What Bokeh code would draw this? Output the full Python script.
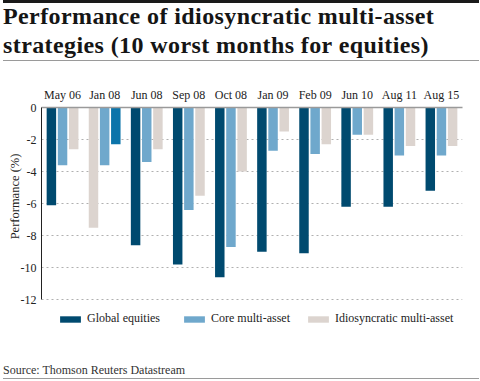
from bokeh.plotting import figure
from bokeh.models import (FactorRange, Range1d, Legend, LegendItem,
                          ColumnDataSource, FixedTicker, Div)
from bokeh.layouts import column
from bokeh.transform import dodge
from bokeh.embed import file_html
from bokeh.resources import INLINE

# ---------------- data ----------------
title_lines = ["Performance of idiosyncratic multi-asset",
               "strategies (10 worst months for equities)"]
source_text = "Source: Thomson Reuters Datastream"
y_axis_title = "Performance (%)"
months = ["May 06", "Jan 08", "Jun 08", "Sep 08", "Oct 08",
          "Jan 09", "Feb 09", "Jun 10", "Aug 11", "Aug 15"]
# bars as they appear in each month group (left, middle, right)
left_values = [-6.1, -7.5, -8.6, -9.8, -10.6, -9.0, -9.1, -6.2, -6.2, -5.2]
left_series = ["global", "idio", "global", "global", "global",
               "global", "global", "global", "global", "global"]
core_values = [-3.6, -3.6, -3.4, -6.4, -8.7, -2.7, -2.9, -1.7, -3.0, -3.0]
right_values = [-2.6, -2.3, -2.6, -5.5, -4.0, -1.5, -2.3, -1.7, -2.4, -2.4]
right_series = ["idio", "alt", "idio", "idio", "idio",
                "idio", "idio", "idio", "idio", "idio"]
y_ticks = [0, -2, -4, -6, -8, -10, -12]
y_tick_labels = ["0", "-2", "-4", "-6", "-8", "-10", "-12"]
series_names = ["Global equities", "Core multi-asset", "Idiosyncratic multi-asset"]

palette = {"global": "#004a6f", "core": "#6fa8cc", "idio": "#dcd4cf", "alt": "#0b74aa"}

SERIF = "Liberation Serif"
W = 480
TITLE_H, FIG_H, SRC_H = 62, 293, 26

# ---------------- title block ----------------
title_style = ("position:absolute;left:3px;white-space:nowrap;font-weight:bold;"
               "font-size:24px;line-height:29px;letter-spacing:0.4px;color:#151515;")
title_html = (
    f'<div style="position:relative;width:{W}px;height:{TITLE_H}px;'
    f'font-family:\'{SERIF}\';overflow:hidden;">'
    f'<div style="position:absolute;left:3px;top:0;width:{W - 4}px;height:3px;background:#1a1a1a;"></div>'
    f'<div style="{title_style}top:2px;">{title_lines[0]}</div>'
    f'<div style="{title_style}top:31px;">{title_lines[1]}</div>'
    f'<div style="position:absolute;left:3px;top:60px;width:{W - 4}px;height:1px;background:#9a9a9a;"></div>'
    f'</div>'
)
title_div = Div(text=title_html, width=W, height=TITLE_H, margin=(0, 0, 0, 0))

source_html = (
    f'<div style="position:relative;width:{W}px;height:{SRC_H}px;'
    f'font-family:\'{SERIF}\';overflow:hidden;">'
    f'<div style="position:absolute;left:3px;top:8px;white-space:nowrap;font-size:12px;'
    f'line-height:14px;color:#333;">{source_text}</div>'
    f'<div style="position:absolute;left:3px;top:23px;width:{W - 4}px;height:1px;background:#9a9a9a;"></div>'
    f'</div>'
)
source_div = Div(text=source_html, width=W, height=SRC_H, margin=(0, 0, 0, 0))

# ---------------- chart ----------------
src = ColumnDataSource(dict(
    month=months,
    left=left_values, left_color=[palette[s] for s in left_series],
    core=core_values, core_color=[palette["core"]] * len(months),
    right=right_values, right_color=[palette[s] for s in right_series],
))

PX_PER_UNIT = 16.025
FRAME_TOP, FRAME_H = 45, 228
p = figure(width=W, height=FIG_H, output_backend="svg", toolbar_location=None,
           x_range=FactorRange(factors=months, range_padding=0),
           y_range=Range1d(-FRAME_H / PX_PER_UNIT, 0),
           x_axis_location="above",
           min_border_left=41, min_border_right=18,
           min_border_top=FRAME_TOP, min_border_bottom=FIG_H - FRAME_TOP - FRAME_H,
           margin=(0, 0, 0, 0))
p.outline_line_color = None
p.background_fill_color = "white"
p.border_fill_color = "white"

off = 0.265
bw = 0.225
r_left = p.vbar(x=dodge("month", -off, range=p.x_range), top=0, bottom="left",
                width=bw, source=src, fill_color="left_color", line_color=None)
r_core = p.vbar(x=dodge("month", 0.0, range=p.x_range), top=0, bottom="core",
                width=bw, source=src, fill_color="core_color", line_color=None)
r_right = p.vbar(x=dodge("month", off, range=p.x_range), top=0, bottom="right",
                 width=bw, source=src, fill_color="right_color", line_color=None)

xa = p.xaxis[0]
xa.axis_line_color = "#9a9a9a"
xa.axis_line_width = 1.5
xa.major_tick_line_color = None
xa.minor_tick_line_color = None
xa.major_tick_out = 0
xa.major_tick_in = 0
xa.major_label_text_font = SERIF
xa.major_label_text_font_size = "12px"
xa.major_label_text_color = "#222222"
xa.major_label_standoff = 6

ya = p.yaxis[0]
ya.ticker = FixedTicker(ticks=y_ticks)
ya.major_label_overrides = {t: s for t, s in zip(y_ticks, y_tick_labels)}
ya.bounds = (min(y_ticks), max(y_ticks))
ya.axis_line_color = "#222222"
ya.axis_line_width = 1
ya.major_tick_line_color = None
ya.minor_tick_line_color = None
ya.major_tick_out = 0
ya.major_tick_in = 0
ya.major_label_text_font = SERIF
ya.major_label_text_font_size = "12px"
ya.major_label_text_color = "#222222"
ya.major_label_standoff = 5
# leading no-break spaces move the centred title up along the axis so that it
# is centred on the 0..-12 scale instead of the whole (legend-including) frame
ya.axis_label = "\u00a0" * 16 + y_axis_title
ya.axis_label_text_font = SERIF
ya.axis_label_text_font_style = "normal"
ya.axis_label_text_font_size = "12.5px"
ya.axis_label_text_color = "#222222"
ya.axis_label_standoff = -4

p.xgrid.grid_line_color = None
p.ygrid.ticker = FixedTicker(ticks=y_ticks)
p.ygrid.grid_line_color = "#b0b0b0"
p.ygrid.grid_line_dash = "2 3"
p.ygrid.grid_line_width = 1

legend = Legend(items=[LegendItem(label=series_names[0], renderers=[r_left], index=0),
                       LegendItem(label=series_names[1], renderers=[r_core], index=0),
                       LegendItem(label=series_names[2], renderers=[r_right], index=0)],
                location=(16, 9), orientation="horizontal",
                glyph_width=26, glyph_height=8, label_standoff=4,
                label_width=93, spacing=1,
                padding=0, margin=0, border_line_color=None,
                background_fill_alpha=0, label_text_font=SERIF,
                label_text_font_size="12px", label_text_color="#222222",
                label_height=14)
p.add_layout(legend, "center")

layout = column(title_div, p, source_div, spacing=0, margin=(0, 0, 0, 0))

open("out.html", "w").write(file_html(layout, INLINE))
